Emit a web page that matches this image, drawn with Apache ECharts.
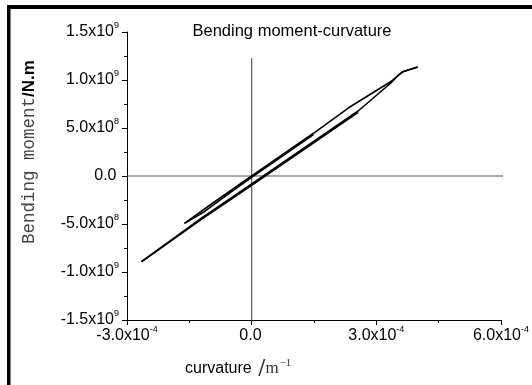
<!DOCTYPE html>
<html>
<head>
<meta charset="utf-8">
<script src="https://cdn.jsdelivr.net/npm/echarts@6/dist/echarts.min.js"></script>
<style>
html,body{margin:0;padding:0;background:#fff;}
#c{width:532px;height:385px;}
</style>
</head>
<body>
<div id="c"></div>
<script>
// Tick values
const xTicks = [-3e-4, 0, 3e-4, 6e-4];
const yTicks = [-1.5e9, -1e9, -5e8, 0, 5e8, 1e9, 1.5e9];

// Hysteresis curve: [curvature, moment]
const upperBranch = [[3.996e-4,1.135e9],[3.638e-4,1.086e9],[3.535e-4,1.052e9],[3.351e-4,9.84e8],[2.324e-4,7.08e8],[1.488e-4,4.45e8],[0,0],[-9.41e-5,-2.84e8],[-1.617e-4,-4.93e8]];
const innerReturn = [[-1.617e-4,-4.93e8],[-1.139e-4,-3.72e8],[-5.42e-5,-1.82e8],[0,-1.4e7],[1.488e-4,4.31e8]];
const lowerBranch = [[-2.651e-4,-8.93e8],[-1.218e-4,-4.41e8],[0,-8.3e7],[1.607e-4,3.93e8],[2.563e-4,6.77e8],[3.04e-4,8.54e8],[3.351e-4,9.69e8],[3.535e-4,1.052e9],[3.638e-4,1.086e9],[3.996e-4,1.135e9]];
const lowerRetrace = [[2.563e-4,6.63e8],[1.607e-4,3.79e8],[0,-9.7e7],[-1.218e-4,-4.55e8],[-2.651e-4,-8.93e8]];

// Reference (zero) lines
const zeroHLine = [[-3e-4,0],[6.1e-4,0]];
const zeroVLine = [[0,1.226e9],[0,-1.5e9]];

function sci(v){
  if (Math.abs(v) < 1e-30) return '{a|0.0}{s| }';
  const e = Math.floor(Math.log10(Math.abs(v)) + 1e-9);
  const m = v / Math.pow(10, e);
  return '{a|' + m.toFixed(1) + 'x10}{s|' + e + '}';
}
const rich = {
  a:{fontSize:16, fontFamily:'Liberation Sans', color:'#000'},
  s:{fontSize:9, fontFamily:'Liberation Sans', color:'#000', padding:[0,0,12,0]}
};

const chart = echarts.init(document.getElementById('c'), null, {renderer:'canvas'});
const curveStyle = {color:'#000', width:1.6};
function lineSeries(data, style){
  return {type:'line', data:data, symbol:'none', smooth:false, silent:true,
          lineStyle:style, clip:false, z: 3};
}
chart.setOption({
  animation:false,
  backgroundColor:'#fff',
  grid:{left:127, right:28, top:32, bottom:65, containLabel:false},
  xAxis:{
    type:'value', min:xTicks[0], max:xTicks[xTicks.length-1], interval:3e-4,
    axisLine:{show:true, onZero:false, lineStyle:{color:'#000', width:1}},
    axisTick:{show:true, inside:false, length:5, lineStyle:{color:'#000'}},
    minorTick:{show:true, splitNumber:2, length:3, lineStyle:{color:'#000'}},
    splitLine:{show:false},
    axisLabel:{formatter:sci, rich:rich, margin:5}
  },
  yAxis:{
    type:'value', min:yTicks[0], max:yTicks[yTicks.length-1], interval:5e8,
    axisLine:{show:true, onZero:false, lineStyle:{color:'#000', width:1}},
    axisTick:{show:true, inside:false, length:5, lineStyle:{color:'#000'}},
    minorTick:{show:true, splitNumber:2, length:3, lineStyle:{color:'#000'}},
    splitLine:{show:false},
    axisLabel:{formatter:sci, rich:rich, margin:8}
  },
  series:[
    lineSeries(zeroHLine, {color:'#555', width:1.2}),
    lineSeries(zeroVLine, {color:'#666', width:1.3}),
    lineSeries(upperBranch, curveStyle),
    lineSeries(innerReturn, curveStyle),
    lineSeries(lowerBranch, curveStyle),
    lineSeries(lowerRetrace, curveStyle)
  ],
  graphic:[
    {type:'rect', shape:{x:7, y:5, width:525, height:4}, style:{fill:'#000'}},
    {type:'rect', shape:{x:7, y:5, width:3.5, height:380}, style:{fill:'#000'}},
    {type:'text', x:292, y:31, style:{text:'Bending moment-curvature', font:'16.5px "Liberation Sans"', fill:'#000', align:'center', verticalAlign:'middle'}},
    {type:'text', x:185, y:369, style:{
      text:'{a|curvature}{b| /}{c|m}{s|\u22121}',
      align:'left', verticalAlign:'middle',
      rich:{
        a:{fontSize:16, fontFamily:'Liberation Sans', fill:'#000'},
        b:{fontSize:21, fontFamily:'DejaVu Serif', fill:'#333', fontWeight:'lighter'},
        c:{fontSize:17, fontFamily:'Liberation Serif', fill:'#333'},
        s:{fontSize:11, fontFamily:'Liberation Serif', fill:'#333', padding:[0,0,11,1]}
      }}},
    {type:'text', x:29, y:152, rotation:Math.PI/2, style:{
      text:'{a|Bending moment}{b|/N.m}',
      align:'center', verticalAlign:'middle',
      rich:{
        a:{fontSize:17.5, fontFamily:'Liberation Mono', fill:'#444'},
        b:{fontSize:17, fontFamily:'Liberation Sans', fontWeight:'bold', fill:'#000'}
      }}}
  ]
});
</script>
</body>
</html>
